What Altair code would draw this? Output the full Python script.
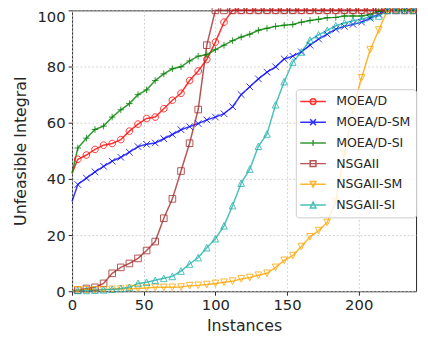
import altair as alt
import pandas as pd

# Instance positions (x) at which values were read
X = [0, 4, 10, 16, 22, 28, 34, 40, 46, 52, 58, 64, 70, 76, 82, 88, 94, 100, 106, 112,
     118, 124, 130, 136, 142, 148, 154, 160, 166, 172, 178, 184, 190, 196, 202, 208,
     214, 220, 226, 232, 238, 240]

names = ["MOEA/D", "MOEA/D-SM", "MOEA/D-SI", "NSGAII", "NSGAII-SM", "NSGAII-SI"]
colors = ["#ff0000", "#0000ff", "#008000", "#a52a2a", "#ffa500", "#20b2aa"]

moead = [42, 47, 48.5, 50.5, 52, 52.6, 54, 57, 59.5, 61.5, 62, 65, 68, 70.5, 75, 78.4,
         82.5, 88.7, 95.8, 100, 100, 100, 100, 100, 100, 100, 100, 100, 100, 100, 100,
         100, 100, 100, 100, 100, 100, 100, 100, 100, 100, 100]
moead_sm = [32, 38, 40.3, 42.5, 44.5, 46.3, 47.7, 49.5, 51.5, 52.3, 52.8, 54.3, 55.8,
            57.5, 58.6, 59.7, 61, 62, 63.2, 65.7, 70, 72.8, 75.6, 78, 79.9, 82.7, 83.7,
            85.2, 87.6, 89.8, 91.5, 93.3, 94.3, 95, 95.8, 97.2, 98.6, 100, 100, 100, 100, 100]
moead_si = [42, 51, 54.5, 57.6, 58.8, 62, 64.6, 66.8, 70, 71.7, 75, 77.4, 79.2, 79.9, 82,
            83.7, 84.2, 86, 87.6, 89.2, 90.5, 91.5, 92.9, 93.6, 94.3, 94.7, 95, 95.8, 96.4,
            96.8, 97.4, 97.5, 98, 98, 98, 98.5, 99.6, 100, 100, 100, 100, 100]
nsgaii = [0.3, 0.4, 1, 1.4, 2.8, 6.4, 8.5, 9.9, 11.7, 14.5, 17.7, 26, 32.9, 42.8, 52.7,
          64.7, 87.6, 100, 100, 100, 100, 100, 100, 100, 100, 100, 100, 100, 100, 100,
          100, 100, 100, 100, 100, 100, 100, 100, 100, 100, 100, 100]
nsgaii_sm = [0.3, 0.5, 0.5, 0.5, 0.6, 0.7, 0.8, 1, 1, 1.2, 1.4, 1.4, 1.4, 1.5, 2, 2.1, 2.4,
             2.8, 3.2, 3.6, 4.4, 4.9, 5.7, 6.4, 8.5, 11, 12.7, 15.9, 19.4, 21.6, 24.5, 32,
             49, 65, 76, 86, 93, 100, 100, 100, 100, 100]
nsgaii_si = [0.2, 0.3, 0.3, 0.4, 0.5, 0.7, 1, 1.4, 2.8, 3.2, 3.9, 4.6, 5.3, 7.2, 9.7, 12,
             15.5, 18.7, 23.3, 30.5, 38.5, 43.5, 51.6, 56, 66.4, 74.6, 81.6, 85.2, 89.4,
             91.3, 92.9, 94.5, 95.5, 96.3, 96.8, 97.8, 98, 100, 100, 100, 100, 100]

series_vals = [moead, moead_sm, moead_si, nsgaii, nsgaii_sm, nsgaii_si]

# marker glyphs (unit box -1..1)
marker_paths = [
    "M-1,0A1,1 0 1,0 1,0A1,1 0 1,0 -1,0Z",
    "M-1,-1L1,1M-1,1L1,-1",
    "M-1,0H1M0,-1V1",
    "M-1,-1H1V1H-1Z",
    "M-1,-1H1L0,1Z",
    "M0,-1L1,1H-1Z",
]
# legend glyphs: line + small marker
ln = "M-1.23,0H2.77"
legend_paths = [
    ln + "M0.32,0A0.45,0.45 0 1,0 1.22,0A0.45,0.45 0 1,0 0.32,0Z",
    ln + "M0.32,-0.45L1.22,0.45M0.32,0.45L1.22,-0.45",
    ln + "M0.77,-0.45V0.45",
    ln + "M0.32,-0.45H1.22V0.45H0.32Z",
    ln + "M0.32,-0.45H1.22L0.77,0.45Z",
    ln + "M0.77,-0.45L1.22,0.45H0.32Z",
]

rows = []
for name, vals in zip(names, series_vals):
    for x, y in zip(X, vals):
        rows.append({"series": name, "x": x, "y": y})
df = pd.DataFrame(rows)

FONT = "DejaVu Sans"
TXT = "#262626"

xenc = alt.X("x:Q", scale=alt.Scale(domain=[0, 240], nice=False, zero=False),
             axis=alt.Axis(values=[0, 50, 100, 150, 200], title="Instances", labelFlush=False))
yenc = alt.Y("y:Q", scale=alt.Scale(domain=[0, 100], nice=False),
             axis=alt.Axis(values=[0, 20, 40, 60, 80, 100], title="Unfeasible Integral",
                           labelFlush=False,
                           labelOffset={"condition": {"test": "datum.value == 100", "value": 6}, "value": 0}))

base = alt.Chart(df)

layers = []
for name, col in zip(names, colors):
    layers.append(
        base.transform_filter(f"datum.series == '{name}'")
        .mark_line(strokeWidth=1.5, opacity=0.8, color=col)
        .encode(x=xenc, y=yenc)
    )
for name, col, path in zip(names, colors, marker_paths):
    layers.append(
        base.transform_filter(f"datum.series == '{name}' && datum.x > 0 && datum.x < 240")
        .mark_point(shape=path, size=45, strokeWidth=1, opacity=0.8, filled=False, color=col)
        .encode(x=xenc, y=yenc)
    )

leg = dict(title=None, orient="none", legendX=227, legendY=80, padding=5,
           symbolSize=169, symbolStrokeWidth=1.5, labelFontSize=12.7, labelOffset=21,
           rowPadding=6, strokeColor="#cccccc", fillColor="rgba(255,255,255,0.8)",
           cornerRadius=3, labelFont=FONT, labelColor=TXT)

ghost = base.mark_point(clip=True, opacity=0.8, strokeWidth=1.5, filled=False).encode(
    x=alt.value(-300), y=alt.value(-300),
    color=alt.Color("series:N", scale=alt.Scale(domain=names, range=colors),
                    legend=alt.Legend(**leg), sort=names),
    shape=alt.Shape("series:N", scale=alt.Scale(domain=names, range=legend_paths),
                    legend=alt.Legend(**leg), sort=names),
)
layers.append(ghost)

chart = alt.layer(*layers).properties(
    width=349, height=285,
    padding={"left": 65, "top": 0, "right": 4, "bottom": 43},
    autosize=alt.AutoSizeParams(type="none"),
).configure_view(
    stroke=TXT, strokeWidth=1
).configure_axis(
    domain=False, grid=True, gridColor="#c8c8c8", gridDash=[2, 2], gridWidth=0.8,
    tickColor=TXT, tickSize=4, labelPadding=3,
    labelFont=FONT, labelFontSize=15, labelColor=TXT,
    titleFont=FONT, titleFontSize=16, titleColor=TXT, titleFontWeight="normal",
).configure_axisY(titlePadding=9).configure_axisX(titlePadding=5)

chart.save("out.html", embed_options={"renderer": "svg", "actions": False})
